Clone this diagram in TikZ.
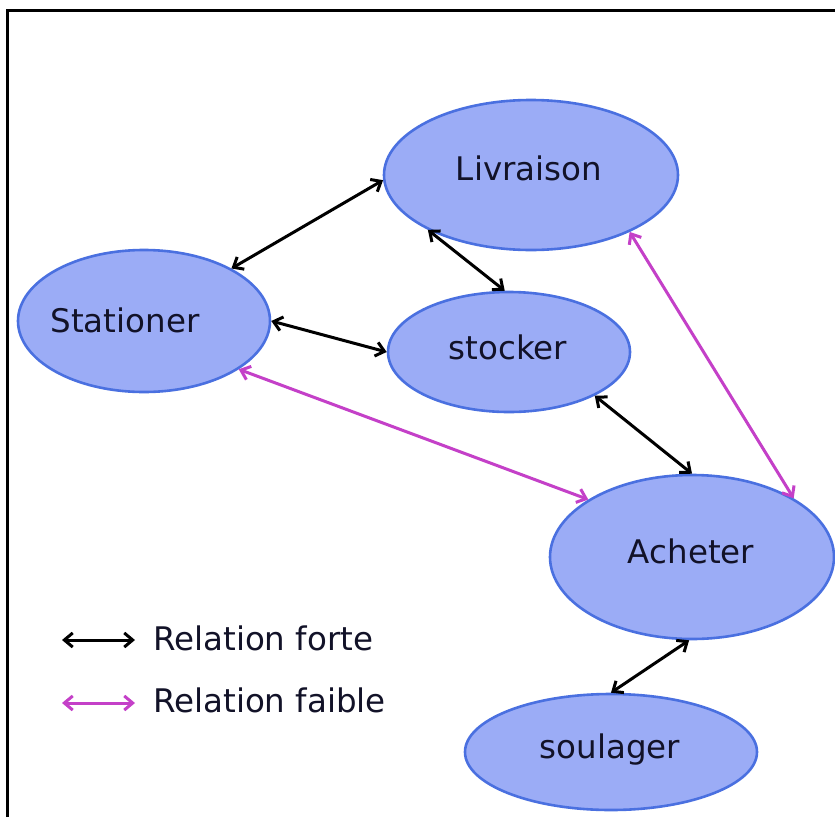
\documentclass[tikz,border=0pt]{standalone}
\usepackage{fontspec}
\setmainfont{DejaVu Sans}
\usetikzlibrary{shapes.geometric,arrows.meta}
\definecolor{efill}{RGB}{155,172,246}
\definecolor{edraw}{RGB}{74,112,224}
\definecolor{mag}{RGB}{196,64,200}
\definecolor{txt}{RGB}{18,18,40}
\begin{document}
\begin{tikzpicture}[x=1pt,y=-1pt,
  ell/.style={ellipse, draw=edraw, fill=efill, line width=2.6pt, inner sep=0pt},
  lbl/.style={font=\fontsize{32.5}{38}\selectfont, text=txt, anchor=base, inner sep=0pt},
  tip/.tip={Straight Barb[angle=80:11pt, line width=3pt]},
  strong/.style={draw=black, line width=3pt, tip-tip},
  weak/.style={strong, draw=mag}]
\useasboundingbox (0,0) rectangle (835,817);
\fill[white] (0,0) rectangle (835,817);
\draw[line width=2.5pt] (7.5,817) -- (7.5,10.5) -- (835,10.5);

\node[ell, minimum width=294pt, minimum height=150pt] (liv) at (531,175) {};
\node[ell, minimum width=252pt, minimum height=142pt] (sta) at (144,321) {};
\node[ell, minimum width=242pt, minimum height=120pt] (sto) at (509,352) {};
\node[ell, minimum width=284pt, minimum height=164pt] (ach) at (692,557) {};
\node[ell, minimum width=292pt, minimum height=116pt] (sou) at (611,752) {};

\node[lbl] (livt) at (529,180) {Livraison};
\node[lbl] (stat) at (125,332) {Stationer};
\node[lbl] (stot) at (508,359) {stocker};
\node[lbl] (acht) at (691,563) {Acheter};
\node[lbl] (sout) at (610,758) {soulager};

\draw[strong] (liv.182) -- (sta.31);
\draw[strong] (liv.208) -- (sto.94);
\draw[strong] (sta.0) -- (sto.180);
\draw[strong] (sto.333) -- (ach.90);
\draw[strong] (ach.268) -- (sou.90);
\draw[weak] (sta.333) -- (ach.151);
\draw[weak] (liv.330) -- (ach.30);

\coordinate (l1a) at (62,640);
\coordinate (l1b) at (135,640);
\coordinate (l2a) at (62,703);
\coordinate (l2b) at (135,703);
\draw[strong] (l1a) -- (l1b);
\draw[weak] (l2a) -- (l2b);
\node[lbl, anchor=base west] (leg1) at (153,650) {Relation forte};
\node[lbl, anchor=base west] (leg2) at (153,712) {Relation faible};
\end{tikzpicture}
\end{document}
